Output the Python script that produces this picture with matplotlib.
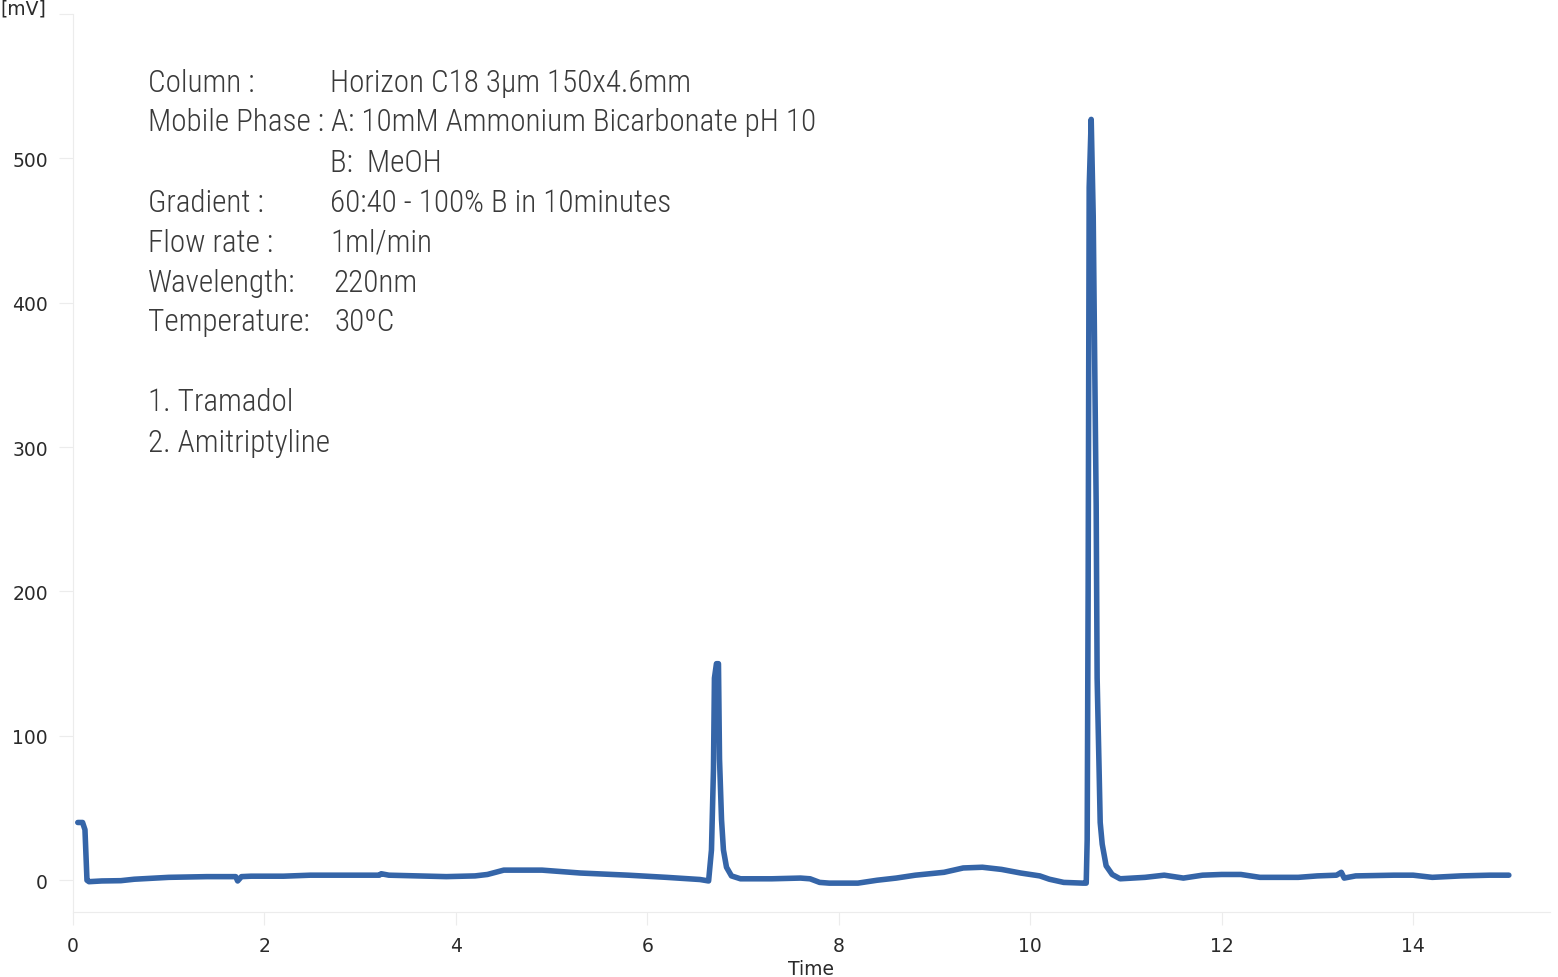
import matplotlib
matplotlib.use('Agg')
import matplotlib.pyplot as plt

# chromatogram trace (time in min, signal in mV)
time_min = [0.05, 0.10, 0.125, 0.146, 0.167, 0.30, 0.50, 0.64, 1.00, 1.40, 1.70, 1.72,
            1.76, 1.86, 2.20, 2.48, 3.00, 3.20, 3.22, 3.30, 3.90, 4.20, 4.33, 4.50,
            4.90, 5.30, 5.80, 6.20, 6.55, 6.64, 6.670, 6.691, 6.701, 6.722, 6.743,
            6.754, 6.775, 6.795, 6.827, 6.879, 6.973, 7.30, 7.60, 7.70, 7.80, 7.90,
            8.20, 8.40, 8.60, 8.80, 9.10, 9.30, 9.50, 9.70, 9.90, 10.10, 10.20,
            10.35, 10.55, 10.585, 10.595, 10.605, 10.616, 10.637, 10.658, 10.668,
            10.689, 10.699, 10.720, 10.731, 10.752, 10.793, 10.856, 10.939, 11.20,
            11.40, 11.60, 11.80, 12.00, 12.20, 12.40, 12.80, 13.00, 13.20, 13.25,
            13.28, 13.40, 13.80, 14.00, 14.20, 14.50, 14.80, 15.00]
signal_mv = [40, 40, 35, 0, -1, -0.5, -0.3, 0.7, 2, 2.5, 2.5, -0.5,
             2.5, 2.8, 2.8, 3.5, 3.5, 3.5, 4.5, 3.5, 2.5, 3, 4, 7,
             7, 5, 3.5, 2, 0.5, -0.5, 21, 77, 140, 150, 150,
             84, 42, 21, 9, 3, 1, 1, 1.5, 1, -1.5, -2,
             -2, 0, 1.5, 3.5, 5.5, 8.5, 9, 7.5, 5, 3, 0.7,
             -1.5, -2, -2, 28, 200, 480, 527, 460, 395,
             260, 140, 75, 40, 25, 10, 4, 1, 2,
             3.5, 1.5, 3.5, 4, 4, 2, 2, 3, 3.5, 5.5,
             1.5, 3, 3.5, 3.5, 2, 3, 3.5, 3.5]

x_ticks = [0, 2, 4, 6, 8, 10, 12, 14]
y_ticks = [0, 100, 200, 300, 400, 500, 600]

info_labels = ['Column :', 'Mobile Phase : A: 10mM Ammonium Bicarbonate pH 10', '',
               'Gradient :', 'Flow rate :', 'Wavelength:', 'Temperature:', '',
               '1. Tramadol', '2. Amitriptyline']
info_values = ['Horizon C18 3\u00b5m 150x4.6mm', '', 'B:  MeOH',
               '60:40 - 100% B in 10minutes', '1ml/min', '220nm', '30\u00baC', '',
               '', '']

line_color = '#3565a8'
faint = '#ececec'
tick_text = '#2a2a2a'

fig = plt.figure(figsize=(15.58, 9.78), dpi=100)
ax = fig.add_axes([73 / 1558, 1 - 913 / 978, (1550 - 73) / 1558, (913 - 15) / 978])

ax.plot(time_min, signal_mv, color=line_color, linewidth=4.0,
        solid_joinstyle='round', solid_capstyle='round')

ax.set_xlim(0, 15.43)
ax.set_ylim(-22, 600)
ax.set_xticks(x_ticks)
ax.set_yticks(y_ticks)
ax.set_yticklabels([str(v) if v < 600 else '' for v in y_ticks])

for side in ['top', 'right']:
    ax.spines[side].set_visible(False)
for side in ['left', 'bottom']:
    ax.spines[side].set_color(faint)
    ax.spines[side].set_linewidth(0.8)

ax.tick_params(axis='y', length=10, width=0.8, color=faint, pad=8,
               labelsize=13.5, labelcolor=tick_text)
ax.tick_params(axis='x', length=9, width=0.8, color=faint, pad=8,
               labelsize=13.5, labelcolor=tick_text)
for lab in ax.get_xticklabels() + ax.get_yticklabels():
    lab.set_family('DejaVu Sans')

fig.text(811 / 1558, 1 - 970 / 978, 'Time', ha='center', va='center',
         fontsize=13.5, color=tick_text, family='DejaVu Sans')
fig.text(0, 1 - 9 / 978, '[mV]', ha='left', va='center',
         fontsize=13.5, color=tick_text, family='DejaVu Sans')

# method annotation block
text_font = dict(family=['Roboto Condensed', 'Roboto', 'DejaVu Sans'],
                 weight='light', fontsize=22.4, color='#3a3a3a', va='center')
row_y = [83, 123, 163, 203, 243, 283, 323, 363, 403, 443]
value_x = [330, 330, 330, 330, 330, 333, 335, 330, 330, 330]
for i, (lab, val) in enumerate(zip(info_labels, info_values)):
    y = 1 - row_y[i] / 978
    if lab:
        fig.text(148 / 1558, y, lab, ha='left', **text_font)
    if val:
        fig.text(value_x[i] / 1558, y, val, ha='left', **text_font)

fig.savefig('out.png', dpi=100)
